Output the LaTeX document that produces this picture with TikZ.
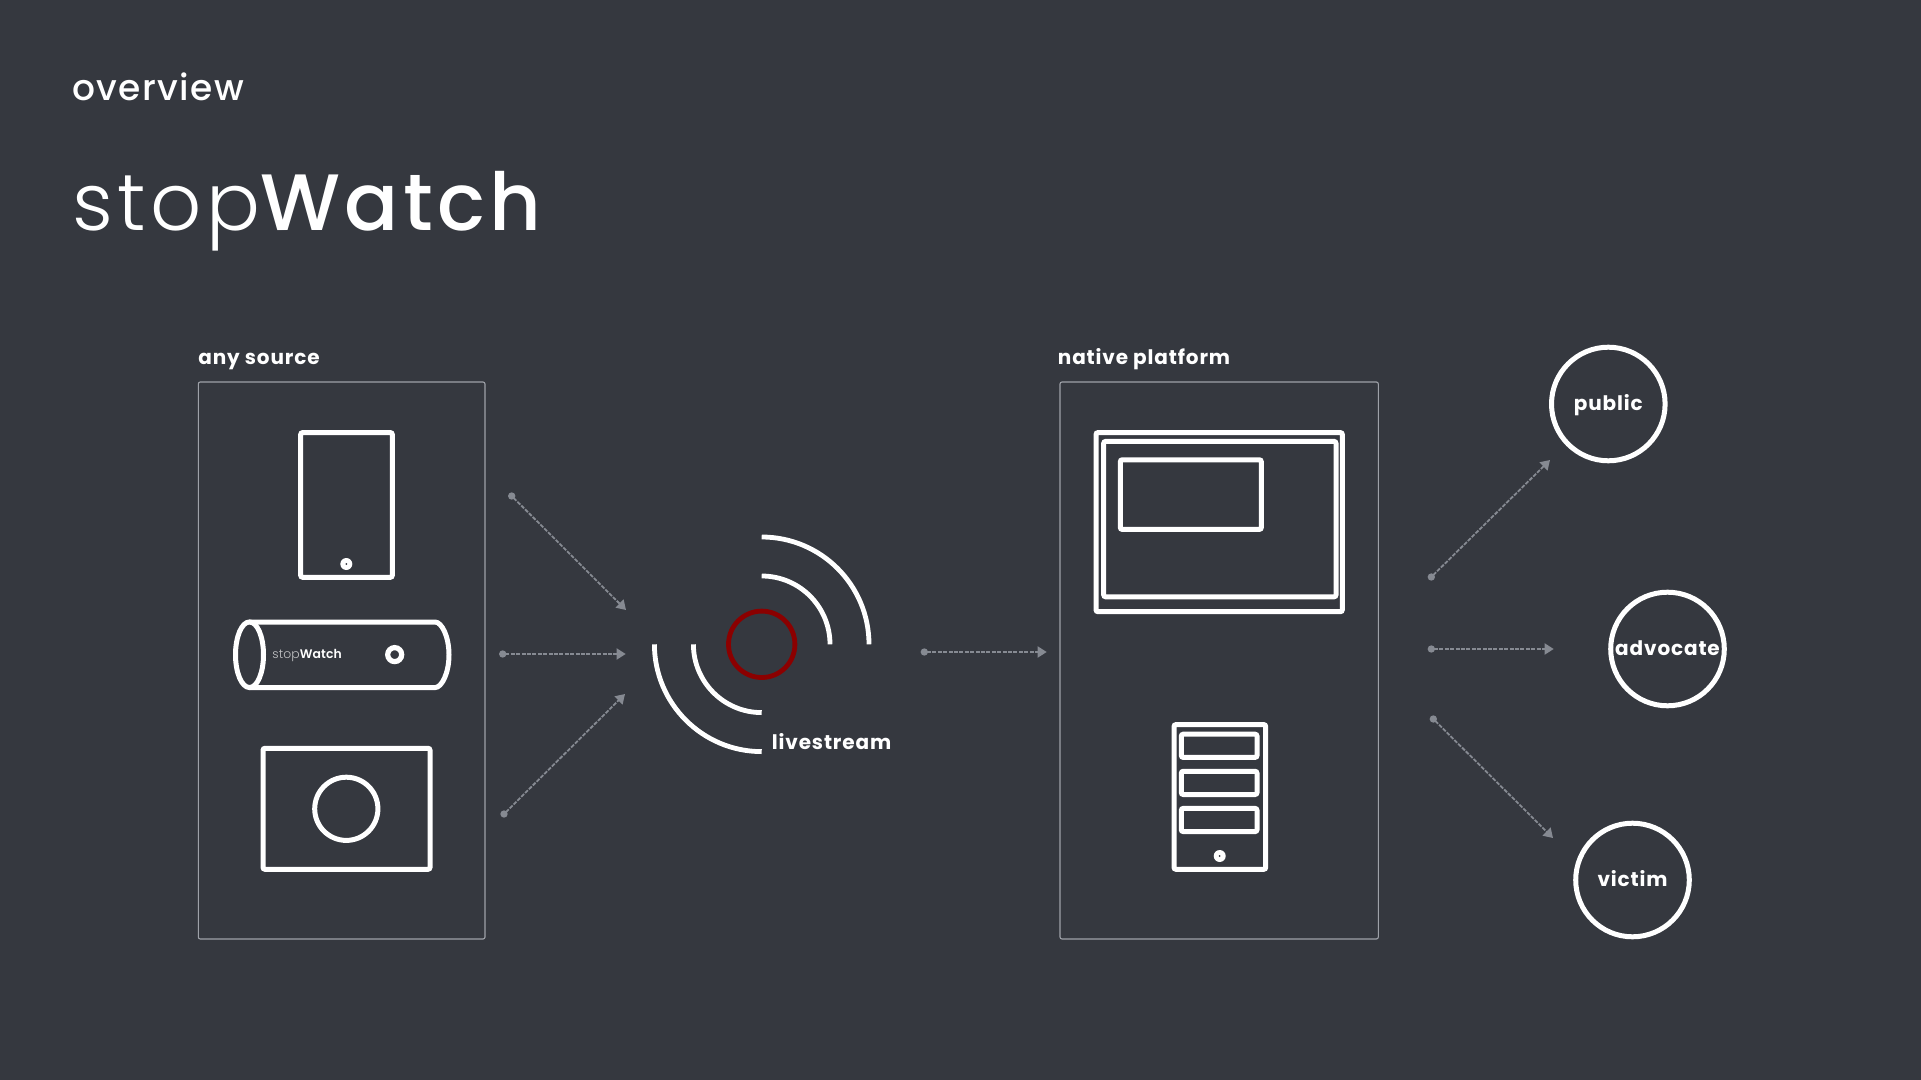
\documentclass[tikz,border=0pt]{standalone}
\usepackage{fontspec}
\setmainfont{Poppins}
\newfontfamily\popLight[LetterSpace=5.5]{Poppins Light}
\newfontfamily\popThin[LetterSpace=1]{Poppins Light}
\newfontfamily\popReg[LetterSpace=3.8]{Poppins Medium}
\newfontfamily\popHead[LetterSpace=5.5]{Poppins Medium}
\newfontfamily\popSmall[LetterSpace=1]{Poppins SemiBold}
\newfontfamily\popBold[LetterSpace=4.3]{Poppins Bold}
\usetikzlibrary{arrows.meta,shapes.geometric}
\definecolor{slide}{RGB}{53,56,63}
\definecolor{wire}{RGB}{134,138,146}
\definecolor{blood}{RGB}{139,0,0}

\begin{document}
\begin{tikzpicture}[x=0.5pt,y=-0.5pt,
    panel/.style={draw=wire!80!white,line width=0.55pt,rounded corners=1pt},
    icon/.style={draw=white,line width=2.5pt,rounded corners=1pt},
    flow/.style={draw=wire,line width=0.9pt,dash pattern=on 2pt off 0.7pt,shorten <=-1.8pt,
        {Circle[length=3.6pt,width=3.6pt]}-{Triangle[length=4.6pt,width=5.6pt]}},
    tag/.style={anchor=base west,inner sep=0pt,text=white,font=\fontsize{10}{12}\popBold},
    person/.style={circle,draw=white,line width=2.5pt,minimum size=56.8pt,inner sep=0pt,
        text=white,text height=6.6pt,text depth=0pt,font=\fontsize{10}{12}\popBold}]
\fill[slide](0,0) rectangle (1921,1080);
\useasboundingbox(0,0) rectangle (1921,1080);

\node[tag,font=\fontsize{18}{22}\popReg] (overview) at (72,100.3) {overview};
\node[tag,font=\fontsize{40}{48}\popLight] (title) at (72,230.7) {stop{\popHead Watch}};

\node[tag] (anysource) at (198,364.5) {any source};
\node[tag] (nativeplatform) at (1057.5,364.5) {native platform};
\node[tag] (livestream) at (771.5,749) {livestream};

\draw[panel](198.3,382) rectangle (485,939);
\draw[panel](1060,382) rectangle (1378.3,939);

% tablet
\draw[icon](300.7,432.6) rectangle (392.3,577.3);
\fill[white](346.3,564) circle(3pt);
\fill[slide](346.3,564) circle(0.5pt);

% roller
\draw[icon](249.5,622) -- (433,622) arc[start angle=90,end angle=-90,x radius=8pt,y radius=16.4pt] -- (249.5,687.5);
\draw[icon](249.5,654.75) ellipse[x radius=7pt,y radius=16.4pt];
\node[anchor=base west,inner sep=0pt,font=\fontsize{6.2}{8}\selectfont] (rollername) at (272,658.8)
    {\color{white!70!slide}\popThin stop{\color{white}\popSmall Watch}};
\draw[white,line width=2.6pt](394.7,654.6) circle(3.5pt);

% camera
\draw[icon](263,748.3) rectangle (430,869.3);
\draw[icon](346.3,808.8) circle(15.8pt);

% signal
\draw[blood,line width=2.4pt](761.7,644.3) circle(16.6pt);
\foreach \r in {34.15,53.65}{
    \draw[white,line width=2.4pt](761.7,644.3) ++(0:\r pt) arc[start angle=0,end angle=90,radius=\r pt];
    \draw[white,line width=2.4pt](761.7,644.3) ++(180:\r pt) arc[start angle=180,end angle=270,radius=\r pt];
}

% monitor
\draw[icon](1096,432.6) rectangle (1342.3,611.7);
\draw[icon](1103.7,441.4) rectangle (1336,596.8);
\draw[icon](1120.3,459.8) rectangle (1261.3,529.4);

% server
\draw[icon](1174,724.6) rectangle (1265.7,869.3);
\foreach \y in {734.2,771.3,808.4}{
    \draw[icon](1181.3,\y) rectangle (1257,\y+23.2);
}
\fill[white](1219.7,856) circle(3pt);
\fill[slide](1219.7,856) circle(0.5pt);

\node[person] (public) at (1608.3,404) {public};
\node[person] (advocate) at (1667.5,649) {advocate};
\node[person] (victim) at (1632.5,880) {victim};

\coordinate (srcA) at (511.7,496);
\coordinate (srcB) at (502.7,654);
\coordinate (srcC) at (504,814);
\coordinate (inA) at (626,610);
\coordinate (inB) at (625.7,654);
\coordinate (inC) at (625,694);
\coordinate (liveOut) at (924.3,652);
\coordinate (platIn) at (1046.7,652);
\coordinate (outA) at (1431.3,577);
\coordinate (outB) at (1431.3,649);
\coordinate (outC) at (1433.3,719);
\coordinate (endA) at (1550,460);
\coordinate (endB) at (1553.7,649);
\coordinate (endC) at (1553,838);

\draw[flow](srcA)--(inA);
\draw[flow](srcB)--(inB);
\draw[flow](srcC)--(inC);
\draw[flow](liveOut)--(platIn);
\draw[flow](outA)--(endA);
\draw[flow](outB)--(endB);
\draw[flow](outC)--(endC);
\end{tikzpicture}
\end{document}
